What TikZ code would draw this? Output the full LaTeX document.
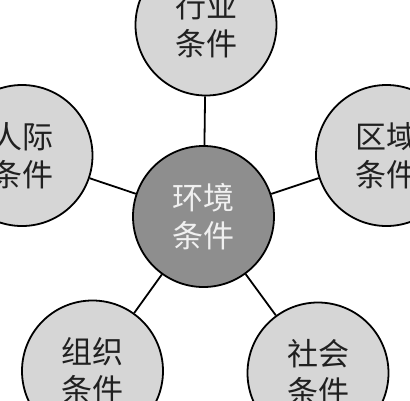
\documentclass[tikz,border=0pt]{standalone}
\usepackage{fontspec}
\newfontfamily\cjk{Noto Sans CJK SC}
\definecolor{outerfill}{HTML}{D6D6D6}
\definecolor{innerfill}{HTML}{8E8E8E}
\definecolor{innertext}{HTML}{F0F0F0}
\definecolor{outertext}{HTML}{202020}
\tikzset{
  ball/.style={circle, draw=black, line width=1.8pt, minimum size=141pt, inner sep=0pt,
    align=center, font=\cjk\fontsize{31}{38}\selectfont},
  outerball/.style={ball, fill=outerfill, text=outertext},
  innerball/.style={ball, fill=innerfill, text=innertext},
  link/.style={line width=1.8pt, draw=black}
}
\begin{document}
\begin{tikzpicture}[x=1pt, y=-1pt]
\useasboundingbox (0,0) rectangle (410,400);
\node[innerball] (c) at (203.5,216.5) {环境\\条件};
\node[outerball] (t) at (206,25) {行业\\条件};
\node[outerball] (l) at (22,155.5) {人际\\条件};
\node[outerball] (r) at (386.5,155.5) {区域\\条件};
\node[outerball] (bl) at (92.5,371) {组织\\条件};
\node[outerball] (br) at (318,373) {社会\\条件};
\draw[link] (c) -- (t);
\draw[link] (c) -- (l);
\draw[link] (c) -- (r);
\draw[link] (c) -- (bl);
\draw[link] (c) -- (br);
\end{tikzpicture}
\end{document}
